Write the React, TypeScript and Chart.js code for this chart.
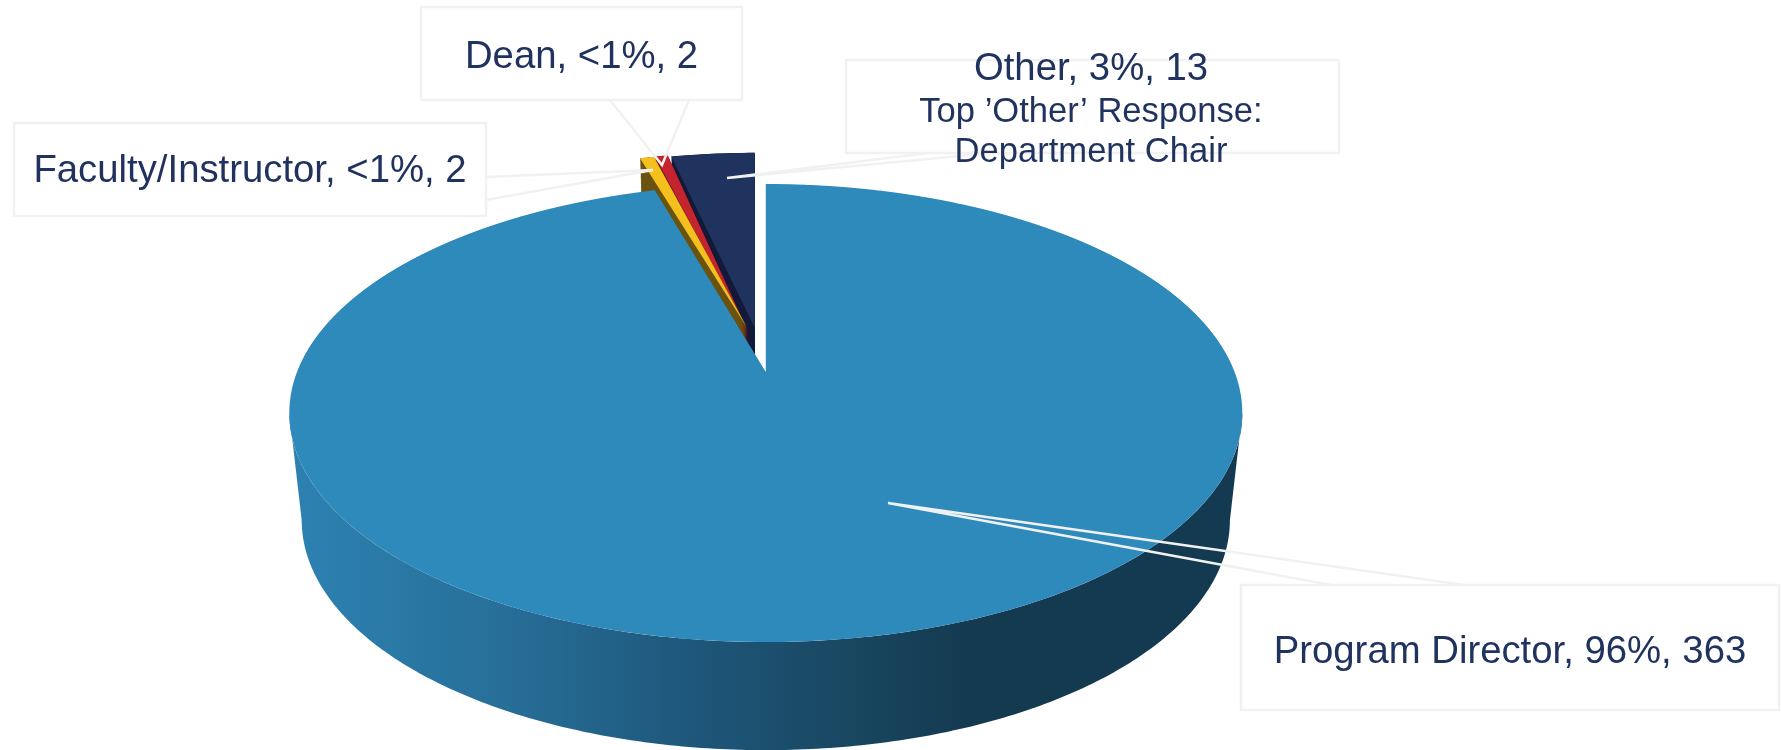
import React, { useEffect, useRef } from "react";
import { Chart, registerables } from "chart.js";

Chart.register(...registerables);

const categories = ["Program Director", "Faculty/Instructor", "Dean", "Other"];
const percentLabels = ["96%", "<1%", "<1%", "3%"];
const counts = [363, 2, 2, 13];
const otherNote = ["Top \u2019Other\u2019 Response:", "Department Chair"];

const topColors = ["#2f8abc", "#f4c01e", "#c3242e", "#20335f"];
const wallColors = ["", "#6a5310", "#7a141c", "#141a3a"];

const W = 1781;
const H = 750;
const CAM_C = 0.179;
const CAM_TOP = { cx: 765.8, y0: 372, a: 468.8, b: 221.7 };
const CAM_BOT = { cx: 765.8, y0: 479, a: 456.6, b: 222.6 };
// per-slice explosion in disc units: shift u, shift v, scale, rotation (deg), lateral stretch
const EXPLODE = [
  [0, 0, 1, 0, 1],
  [-0.0423, -0.2106, 0.995, -0.25, 1.11],
  [-0.0392, -0.1864, 1.02, 0.21, 0.97],
  [-0.0243, -0.206, 0.995, -0.35, 1.014],
];
const INK = "#20335f";
const CALLOUT = "#f1f1f1";
const boxes = [
  { i: 0, x0: 1241, y0: 585, x1: 1779, y1: 710, tip: [888, 503], from: [[1331, 585], [1464, 585]], tx: 1510, ty: 663 },
  { i: 1, x0: 14, y0: 123, x1: 486, y1: 216, tip: [653, 170], from: [[486, 177], [486, 200]], tx: 250, ty: 182 },
  { i: 2, x0: 421, y0: 7, x1: 742, y1: 100, tip: [662, 165], from: [[610, 100], [689, 100]], tx: 581.5, ty: 68 },
  { i: 3, x0: 846, y0: 60, x1: 1339, y1: 153, tip: [727, 178], from: [[928, 153], [991, 153]], tx: 1091, ty: 80 },
];

function project(cam: any, u: number, v: number) {
  const d = 1 - CAM_C * v;
  return [cam.cx + (cam.a * u) / d, cam.y0 + (cam.b * v) / d];
}
function lerpCam(t: number) {
  return {
    cx: CAM_TOP.cx,
    y0: CAM_TOP.y0 + (CAM_BOT.y0 - CAM_TOP.y0) * t,
    a: CAM_TOP.a + (CAM_BOT.a - CAM_TOP.a) * t,
    b: CAM_TOP.b + (CAM_BOT.b - CAM_TOP.b) * t,
  };
}

function drawFrontWall(ctx: CanvasRenderingContext2D, arc: any) {
  const lim = Math.asin(CAM_C);
  const a0 = Math.max(arc.startAngle, lim);
  const a1 = Math.min(arc.endAngle, Math.PI - lim);
  const g = ctx.createLinearGradient(290, 0, 1243, 0);
  g.addColorStop(0, "#2d82b2");
  g.addColorStop(0.22, "#276f99");
  g.addColorStop(0.43, "#1e5679");
  g.addColorStop(0.6, "#18465f");
  g.addColorStop(0.71, "#143a50");
  g.addColorStop(1, "#133a50");
  ctx.fillStyle = g;
  ctx.beginPath();
  const N = 240;
  for (let k = 0; k <= N; k++) {
    const a = a0 + ((a1 - a0) * k) / N;
    const p = project(CAM_TOP, Math.cos(a), Math.sin(a));
    if (k === 0) ctx.moveTo(p[0], p[1]);
    else ctx.lineTo(p[0], p[1]);
  }
  for (let k = N; k >= 0; k--) {
    const a = a0 + ((a1 - a0) * k) / N;
    const p = project(CAM_BOT, Math.cos(a), Math.sin(a));
    ctx.lineTo(p[0], p[1]);
  }
  ctx.closePath();
  ctx.fill();
}

function drawSliceWall(ctx: CanvasRenderingContext2D, arc: any, i: number) {
  const [du, dv, s, rotDeg, widen] = EXPLODE[i];
  const h = (arc.startAngle + arc.endAngle) / 2;
  const phi = h + (rotDeg * Math.PI) / 180;
  const rim = (a: number) => {
    const lx = s * Math.cos(a - h);
    const ly = s * widen * Math.sin(a - h);
    return [du + lx * Math.cos(phi) - ly * Math.sin(phi), dv + lx * Math.sin(phi) + ly * Math.cos(phi)];
  };
  ctx.fillStyle = wallColors[i];
  const steps = 150;
  for (let n = steps; n >= 0; n--) {
    const cam = lerpCam(n / steps);
    ctx.beginPath();
    let p = project(cam, du, dv);
    ctx.moveTo(p[0], p[1]);
    for (let k = 0; k <= 16; k++) {
      const a = arc.startAngle + ((arc.endAngle - arc.startAngle) * k) / 16;
      const q = rim(a);
      p = project(cam, q[0], q[1]);
      ctx.lineTo(p[0], p[1]);
    }
    ctx.closePath();
    ctx.fill();
  }
}

function drawTop(ctx: CanvasRenderingContext2D, arc: any, i: number) {
  const [du, dv, s, rotDeg, widen] = EXPLODE[i];
  const h = (arc.startAngle + arc.endAngle) / 2;
  const phi = h + (rotDeg * Math.PI) / 180;
  const R = arc.outerRadius;
  const ex = arc.x;
  const ey = arc.y;
  const c = CAM_TOP;
  const yMin = 140;
  const yMax = i === 0 ? 650 : 380;
  for (let Y = yMin; Y < yMax; Y++) {
    const y = Y + 0.5 - c.y0;
    const v = y / (c.b + CAM_C * y);
    const d = 1 - CAM_C * v;
    const S = c.a / (R * d);
    const K = c.b / (R * d * d);
    ctx.save();
    ctx.beginPath();
    ctx.rect(0, Y, W, 1);
    ctx.clip();
    ctx.translate(c.cx, Y + 0.5);
    ctx.transform(S, 0, 0, K, 0, 0);
    ctx.translate(-ex, -(ey + R * v));
    ctx.translate(ex + R * du, ey + R * dv);
    ctx.rotate(phi);
    ctx.scale(s, s * widen);
    ctx.rotate(-h);
    ctx.translate(-ex, -ey);
    arc.draw(ctx);
    ctx.restore();
  }
}

const perspectivePie = {
  id: "perspectivePie",
  beforeDatasetsDraw(chart: any) {
    const ctx = chart.ctx as CanvasRenderingContext2D;
    const arcs = chart.getDatasetMeta(0).data;
    for (const i of [3, 2, 1]) {
      drawSliceWall(ctx, arcs[i], i);
      drawTop(ctx, arcs[i], i);
    }
    drawFrontWall(ctx, arcs[0]);
    drawTop(ctx, arcs[0], 0);
    return false;
  },
  afterDraw(chart: any) {
    const ctx = chart.ctx as CanvasRenderingContext2D;
    ctx.save();
    ctx.strokeStyle = CALLOUT;
    ctx.lineWidth = 2.5;
    for (const b of boxes) {
      ctx.strokeRect(b.x0, b.y0, b.x1 - b.x0, b.y1 - b.y0);
      ctx.beginPath();
      ctx.moveTo(b.from[0][0], b.from[0][1]);
      ctx.lineTo(b.tip[0], b.tip[1]);
      ctx.lineTo(b.from[1][0], b.from[1][1]);
      ctx.stroke();
    }
    ctx.fillStyle = INK;
    ctx.textAlign = "center";
    ctx.textBaseline = "alphabetic";
    ctx.font = '38.3px "Liberation Sans"';
    for (const b of boxes) {
      ctx.fillText(`${categories[b.i]}, ${percentLabels[b.i]}, ${counts[b.i]}`, b.tx, b.ty);
    }
    ctx.font = '34.6px "Liberation Sans"';
    ctx.fillText(otherNote[0], 1091, 122);
    ctx.fillText(otherNote[1], 1091, 162);
    ctx.restore();
  },
};

export default function App() {
  const ref = useRef<HTMLCanvasElement>(null);
  useEffect(() => {
    const chart = new Chart(ref.current!, {
      type: "pie",
      data: {
        labels: categories,
        datasets: [{ data: counts, backgroundColor: topColors, borderWidth: 0, radius: 476 }],
      },
      options: {
        animation: false,
        responsive: false,
        layout: { padding: 0 },
        plugins: { legend: { display: false }, tooltip: { enabled: false } },
      },
      plugins: [perspectivePie],
    } as any);
    return () => chart.destroy();
  }, []);
  return (
    <div style={{ position: "fixed", left: 0, top: 0, width: W, height: H, background: "#fff", overflow: "hidden" }}>
      <canvas ref={ref} width={W} height={H} style={{ display: "block" }} />
    </div>
  );
}
